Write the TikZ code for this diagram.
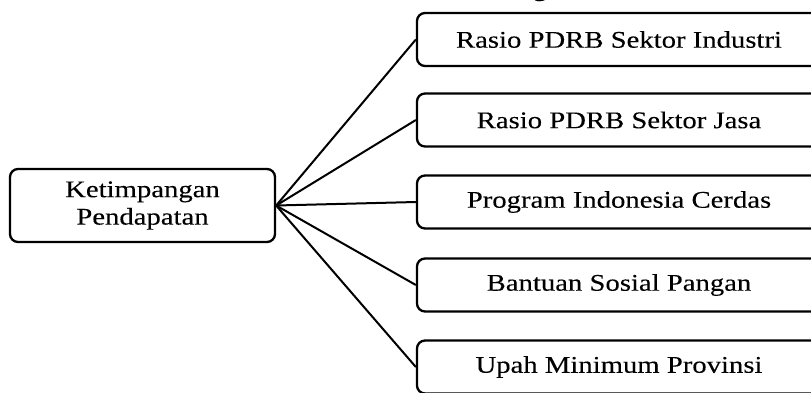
\documentclass[tikz,border=0pt]{standalone}
\usepackage{fontspec}
\setmainfont[FakeStretch=1.2,FakeBold=0.15]{Liberation Serif}
\begin{document}
\begin{tikzpicture}[x=1bp,y=-1bp,
  box/.style={draw,line width=2.3bp,rounded corners=8bp,align=center,
    font=\fontsize{24}{27.5}\selectfont,inner sep=0pt},
  factor/.style={box,minimum width=404bp,minimum height=53bp},
  link/.style={line width=2bp}]
\useasboundingbox (0,0) rectangle (811,392);
\clip (0,0) rectangle (811,392);
% descender of the heading line above the chart
\node[font=\fontsize{24}{27.5}\selectfont,anchor=base] (head) at (540,-4) {g};
\node[box,minimum width=265bp,minimum height=73bp] (main) at (142.5,205.5)
  {Ketimpangan\\Pendapatan};
\node[factor] (f1) at (619,39.5) {Rasio PDRB Sektor Industri};
\node[factor] (f2) at (619,120) {Rasio PDRB Sektor Jasa};
\node[factor] (f3) at (619,202) {Program Indonesia Cerdas};
\node[factor] (f4) at (619,285) {Bantuan Sosial Pangan};
\node[factor] (f5) at (619,367) {Upah Minimum Provinsi};
\foreach \k in {1,...,5}
  \draw[link] (main.east) -- (f\k.west);
\end{tikzpicture}
\end{document}
